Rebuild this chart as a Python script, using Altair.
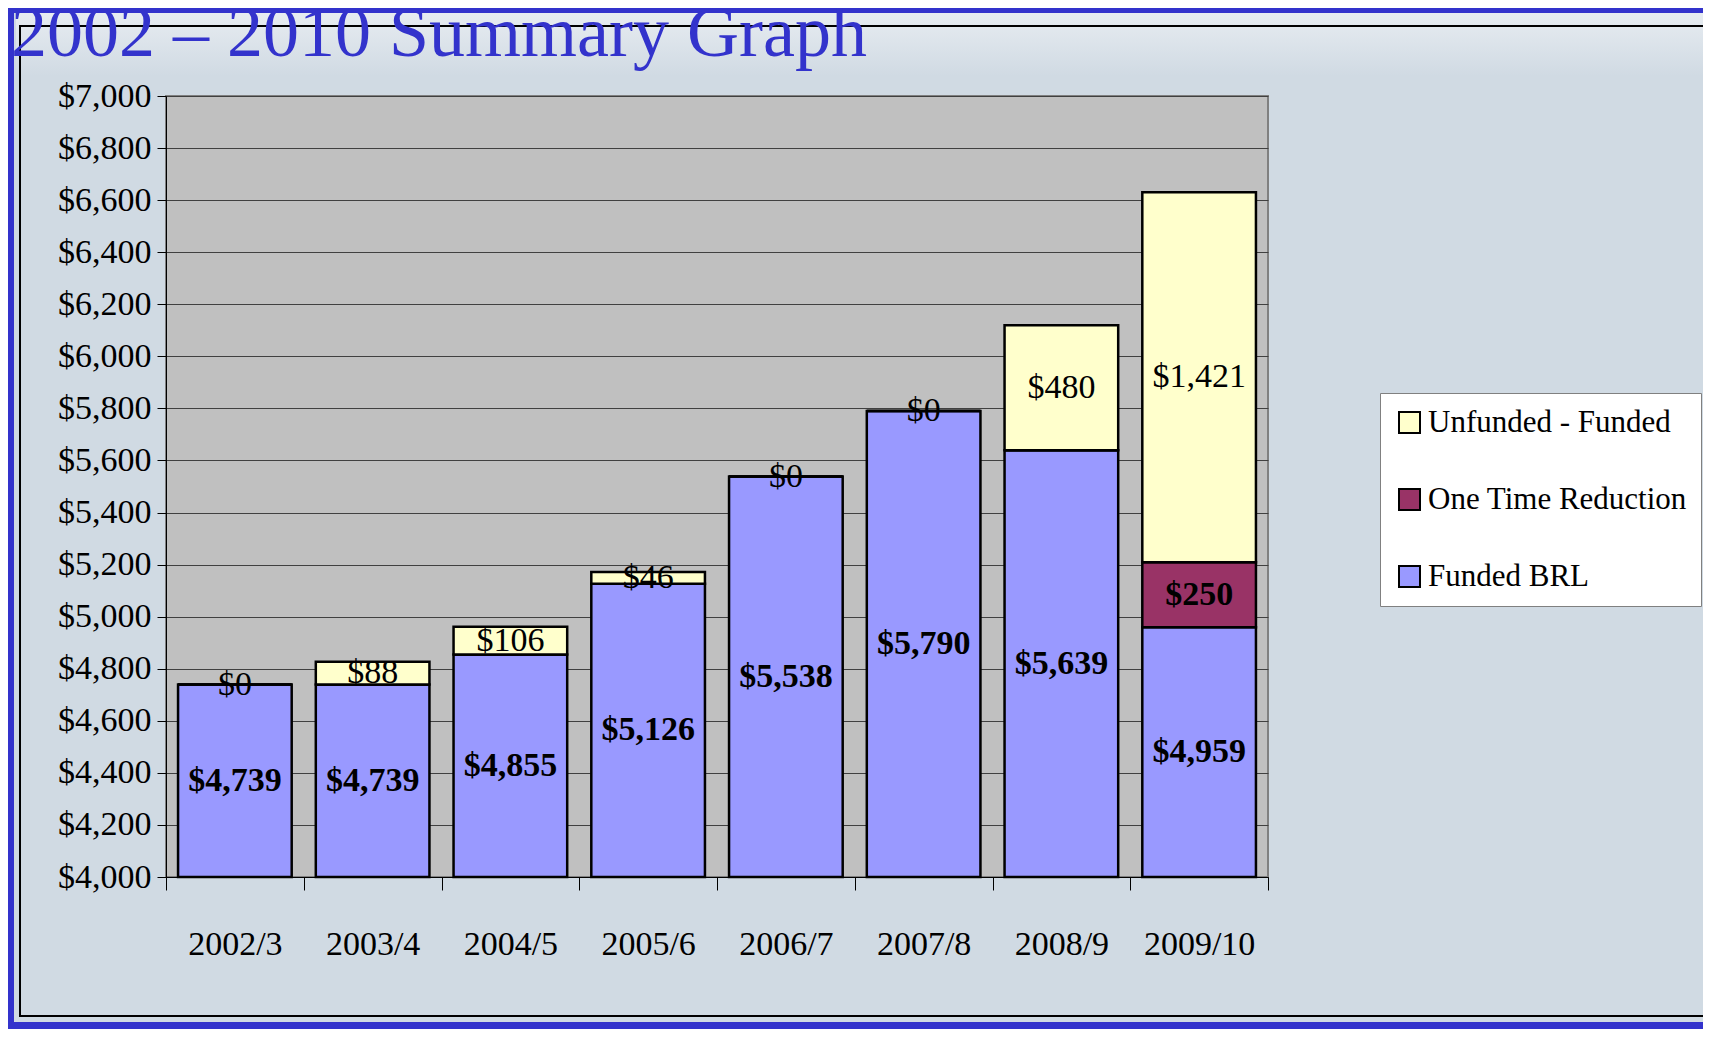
import altair as alt
import pandas as pd

# ---- data ----
categories = ["2002/3", "2003/4", "2004/5", "2005/6", "2006/7", "2007/8", "2008/9", "2009/10"]
funded_brl = [4739, 4739, 4855, 5126, 5538, 5790, 5639, 4959]
one_time_reduction = [0, 0, 0, 0, 0, 0, 0, 250]
unfunded_minus_funded = [0, 88, 106, 46, 0, 0, 480, 1421]
series_names = ["Unfunded - Funded", "One Time Reduction", "Funded BRL"]
series_colors = ["#FFFFCC", "#993366", "#9999FF"]
y_ticks = [4000, 4200, 4400, 4600, 4800, 5000, 5200, 5400, 5600, 5800,
           6000, 6200, 6400, 6600, 6800, 7000]
title_text = "2002 \u2013 2010 Summary Graph"

rows = []
for i, c in enumerate(categories):
    rows.append({"cat": c, "series": "Funded BRL", "order": 0, "value": funded_brl[i]})
    rows.append({"cat": c, "series": "One Time Reduction", "order": 1, "value": one_time_reduction[i]})
    rows.append({"cat": c, "series": "Unfunded - Funded", "order": 2, "value": unfunded_minus_funded[i]})
df = pd.DataFrame(rows)

W, H = 1102, 781
FONT = "Liberation Serif"

base = alt.Chart(df).transform_stack(
    stack="value", groupby=["cat"], sort=[{"field": "order", "order": "ascending"}], as_=["y0", "y1"]
).transform_calculate(
    ys="max(datum.y0, 4000)"
).transform_calculate(
    mid="(datum.ys + datum.y1) / 2"
)

x_scale = alt.Scale(paddingInner=0, paddingOuter=0)
x_enc = alt.X("cat:N", sort=categories, scale=x_scale,
              axis=alt.Axis(title=None, labelAngle=0, labelFont=FONT, labelFontSize=34,
                            labelColor="black", tickColor="black", tickSize=13,
                            tickBand="extent", domainColor="black", labelPadding=37,
                            grid=False))
y_scale = alt.Scale(domain=[4000, 7000], zero=False, nice=False)

bars = base.mark_bar(stroke="black", strokeWidth=2.5, width=alt.RelativeBandSize(0.825)).encode(
    x=x_enc,
    y=alt.Y("ys:Q", scale=y_scale,
            axis=alt.Axis(title=None, values=y_ticks, format="$,.0f", labelFont=FONT,
                          labelFontSize=34, labelColor="black", tickColor="black",
                          tickSize=9, labelPadding=6, domainColor="black",
                          grid=True, gridColor="#404040", gridWidth=1)),
    y2="y1:Q",
    color=alt.Color("series:N",
                    scale=alt.Scale(domain=series_names, range=series_colors),
                    legend=alt.Legend(orient="none", legendX=1214, legendY=297, title=None,
                                      fillColor="white", strokeColor="#808080", padding=14,
                                      symbolType="square", symbolSize=441,
                                      symbolStrokeColor="black", symbolStrokeWidth=2,
                                      symbolOpacity=1, labelLimit=500,
                                      labelFont=FONT, labelFontSize=31, labelColor="black",
                                      labelOffset=3, rowPadding=45)),
)

bold_labels = base.transform_filter(
    "datum.series != 'Unfunded - Funded' && datum.value > 0"
).mark_text(font=FONT, fontSize=34, fontWeight="bold", color="black", baseline="middle").encode(
    x=alt.X("cat:N", sort=categories, scale=x_scale),
    y=alt.Y("mid:Q", scale=y_scale),
    text=alt.Text("value:Q", format="$,.0f"),
)

plain_labels = base.transform_filter(
    "datum.series == 'Unfunded - Funded'"
).mark_text(font=FONT, fontSize=34, color="black", baseline="middle").encode(
    x=alt.X("cat:N", sort=categories, scale=x_scale),
    y=alt.Y("mid:Q", scale=y_scale),
    text=alt.Text("value:Q", format="$,.0f"),
)

one = pd.DataFrame({"t": [title_text]})

top_glow = alt.Chart(one).mark_rect(
    fill=alt.Gradient(gradient="linear", stops=[alt.GradientStop(color="#E7ECF1", offset=0),
                                                alt.GradientStop(color="#D0DAE3", offset=1)],
                      x1=0, x2=0, y1=0, y2=1)
).encode(x=alt.value(-150), x2=alt.value(1540), y=alt.value(-83), y2=alt.value(-20))

frame = alt.Chart(one).mark_rect(fill="transparent", stroke="black", strokeWidth=2).encode(
    x=alt.value(-146), x2=alt.value(1538), y=alt.value(-70), y2=alt.value(920))

blue_top = alt.Chart(one).mark_rule(color="#3333CC", strokeWidth=8).encode(
    x=alt.value(-160), x2=alt.value(1540), y=alt.value(-87))
blue_bottom = alt.Chart(one).mark_rule(color="#3333CC", strokeWidth=8).encode(
    x=alt.value(-160), x2=alt.value(1540), y=alt.value(930))
blue_left = alt.Chart(one).mark_rule(color="#3333CC", strokeWidth=8).encode(
    x=alt.value(-156), y=alt.value(-90), y2=alt.value(936))

title = alt.Chart(one).mark_text(font=FONT, fontSize=72, color="#3333CC", align="left",
                                 baseline="alphabetic").encode(
    text="t:N", x=alt.value(-155), y=alt.value(-40))

chart = alt.layer(
    top_glow, frame, blue_top, blue_bottom, blue_left, title, bars, bold_labels, plain_labels
).properties(
    width=W, height=H,
    autosize=alt.AutoSizeParams(type="none"),
    padding={"left": 158, "top": 88, "right": 435, "bottom": 152},
).configure(
    background="#D0DAE3"
).configure_view(
    fill="#C0C0C0", stroke="#808080", strokeWidth=2
)

chart.save("out.html", embed_options={"renderer": "svg", "actions": False})
